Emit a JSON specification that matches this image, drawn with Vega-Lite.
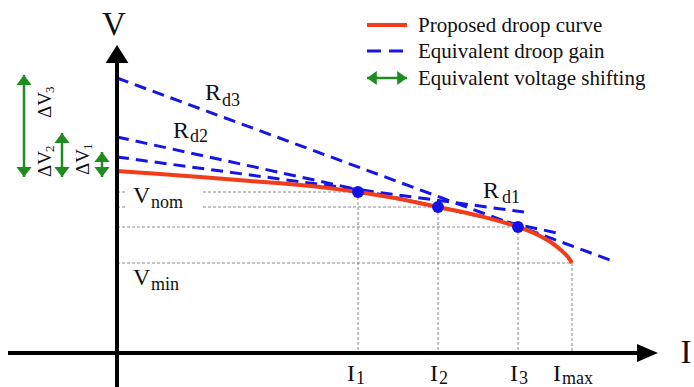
{
  "$schema": "https://vega.github.io/schema/vega-lite/v6.json",
  "width": 694,
  "height": 387,
  "autosize": {"type": "none"},
  "padding": 0,
  "background": "white",
  "config": {"view": {"stroke": null}},
  "datasets": {
    "curve": [
      {"X": 0, "Y": 18.2}, {"X": 4.3, "Y": 17.9}, {"X": 8.3, "Y": 17.6}, {"X": 13.3, "Y": 17.2},
      {"X": 18.3, "Y": 16.8}, {"X": 24.1, "Y": 16.1}, {"X": 28.3, "Y": 15.4}, {"X": 32.1, "Y": 14.6},
      {"X": 36.3, "Y": 13.7}, {"X": 40.1, "Y": 12.6}, {"X": 42.3, "Y": 11.7}, {"X": 43.5, "Y": 11.0},
      {"X": 44.5, "Y": 10.2}, {"X": 45.1, "Y": 9.6}, {"X": 45.5, "Y": 9.0}
    ],
    "dots": [{"X": 24.1, "Y": 16.1}, {"X": 32.1, "Y": 14.6}, {"X": 40.1, "Y": 12.6}],
    "blue": [
      {"line": "Rd1", "X": 0, "Y": 19.6}, {"line": "Rd1", "X": 40.7, "Y": 14.1},
      {"line": "Rd2", "X": 0, "Y": 21.6}, {"line": "Rd2", "X": 44.0, "Y": 12.0},
      {"line": "Rd3", "X": 0, "Y": 27.5}, {"line": "Rd3", "X": 49.3, "Y": 9.3}
    ],
    "grid": [
      {"X": 0, "X2": 1.0, "Y": 16.1, "Y2": 16.1}, {"X": 8.6, "X2": 24.1, "Y": 16.1, "Y2": 16.1},
      {"X": 0, "X2": 1.0, "Y": 14.6, "Y2": 14.6}, {"X": 8.6, "X2": 32.1, "Y": 14.6, "Y2": 14.6},
      {"X": 0, "X2": 40.1, "Y": 12.6, "Y2": 12.6}, {"X": 0, "X2": 45.5, "Y": 9.0, "Y2": 9.0},
      {"X": 24.1, "X2": 24.1, "Y": 16.1, "Y2": 0}, {"X": 32.1, "X2": 32.1, "Y": 14.6, "Y2": 0},
      {"X": 40.1, "X2": 40.1, "Y": 12.6, "Y2": 0}, {"X": 45.5, "X2": 45.5, "Y": 9.0, "Y2": 0}
    ],
    "axes": [
      {"X": 0, "X2": 0, "Y": -3.4, "Y2": 29.2},
      {"X": -10.9, "X2": 52.3, "Y": 0, "Y2": 0}
    ],
    "tipUp": [{"X": 0, "Y": 30.8}],
    "tipRight": [{"X": 54.1, "Y": 0}],
    "shifts": [
      {"X": -9.3, "Y": 27.8, "Y2": 17.6},
      {"X": -5.5, "Y": 22.0, "Y2": 17.6},
      {"X": -1.5, "Y": 20.1, "Y2": 17.6}
    ],
    "legRed": [{"X": 25.0, "Y": 32.8}, {"X": 29.0, "Y": 32.8}],
    "legBlue": [{"X": 25.0, "Y": 30.2}, {"X": 29.0, "Y": 30.2}],
    "legGreen": [{"X": 25.0, "X2": 29.0, "Y": 27.5}],
    "legText": [
      {"t": "Proposed droop curve", "X": 30.1, "Y": 32.1},
      {"t": "Equivalent droop gain", "X": 30.1, "Y": 29.5},
      {"t": "Equivalent voltage shifting", "X": 30.1, "Y": 26.8}
    ],
    "bigLabels": [{"t": "V", "X": -0.3, "Y": 31.8}, {"t": "I", "X": 56.9, "Y": -1.0}],
    "mainLabels": [
      {"t": "V", "X": 1.6, "Y": 15.0}, {"t": "V", "X": 1.6, "Y": 6.8},
      {"t": "R", "X": 8.8, "Y": 25.3}, {"t": "R", "X": 5.6, "Y": 21.5}, {"t": "R", "X": 36.6, "Y": 15.5},
      {"t": "I", "X": 23.0, "Y": -2.8}, {"t": "I", "X": 31.3, "Y": -2.8}, {"t": "I", "X": 39.3, "Y": -2.8}, {"t": "I", "X": 43.6, "Y": -2.8}
    ],
    "subLabels": [
      {"t": "nom", "X": 3.4, "Y": 14.5}, {"t": "min", "X": 3.4, "Y": 6.3},
      {"t": "d3", "X": 10.5, "Y": 24.7}, {"t": "d2", "X": 7.3, "Y": 21.1}, {"t": "d1", "X": 38.5, "Y": 15.0},
      {"t": "1", "X": 23.9, "Y": -3.1}, {"t": "2", "X": 32.2, "Y": -3.1}, {"t": "3", "X": 40.2, "Y": -3.1}, {"t": "max", "X": 44.5, "Y": -3.1}
    ],
    "dvMain": [
      {"t": "ΔV", "X": -6.6, "Y": 23.5}, {"t": "ΔV", "X": -6.6, "Y": 17.6}, {"t": "ΔV", "X": -2.8, "Y": 17.8}
    ],
    "dvSub": [
      {"t": "3", "X": -6.3, "Y": 26.0}, {"t": "2", "X": -6.3, "Y": 20.1}, {"t": "1", "X": -2.5, "Y": 20.3}
    ]
  },
  "encoding": {
    "x": {"field": "X", "type": "quantitative", "scale": {"domain": [-11.7, 57.7], "nice": false, "zero": false}, "axis": null},
    "y": {"field": "Y", "type": "quantitative", "scale": {"domain": [-3.4, 35.3], "nice": false, "zero": false}, "axis": null}
  },
  "layer": [
    {"data": {"name": "grid"}, "mark": {"type": "rule", "color": "#8a8a8a", "strokeWidth": 1, "strokeDash": [3, 2]},
     "encoding": {"x2": {"field": "X2"}, "y2": {"field": "Y2"}}},
    {"data": {"name": "blue"}, "mark": {"type": "line", "color": "#1515e6", "strokeWidth": 3, "strokeDash": [12, 7]},
     "encoding": {"detail": {"field": "line"}}},
    {"data": {"name": "curve"}, "mark": {"type": "line", "color": "#f23c1c", "strokeWidth": 4, "interpolate": "monotone"},
     "encoding": {}},
    {"data": {"name": "dots"}, "mark": {"type": "point", "filled": true, "opacity": 1, "color": "#1010e8", "size": 140},
     "encoding": {}},
    {"data": {"name": "axes"}, "mark": {"type": "rule", "color": "#000000", "strokeWidth": 4},
     "encoding": {"x2": {"field": "X2"}, "y2": {"field": "Y2"}}},
    {"data": {"name": "tipUp"}, "mark": {"type": "point", "filled": true, "opacity": 1, "color": "#000000", "size": 576, "shape": "M0,0L0.95,1.5L-0.95,1.5Z"},
     "encoding": {}},
    {"data": {"name": "tipRight"}, "mark": {"type": "point", "filled": true, "opacity": 1, "color": "#000000", "size": 576, "shape": "M0,0L-1.75,0.75L-1.75,-0.75Z"},
     "encoding": {}},
    {"data": {"name": "shifts"}, "mark": {"type": "rule", "color": "#1e8c1e", "strokeWidth": 2.5},
     "encoding": {"y2": {"field": "Y2"}}},
    {"data": {"name": "shifts"}, "mark": {"type": "point", "filled": true, "opacity": 1, "color": "#1e8c1e", "size": 256, "shape": "M0,0L0.95,1.25L-0.95,1.25Z"},
     "encoding": {}},
    {"data": {"name": "shifts"}, "mark": {"type": "point", "filled": true, "opacity": 1, "color": "#1e8c1e", "size": 256, "shape": "M0,0L0.95,-1.25L-0.95,-1.25Z"},
     "encoding": {"y": {"field": "Y2", "type": "quantitative"}}},
    {"data": {"name": "legRed"}, "mark": {"type": "line", "color": "#f23c1c", "strokeWidth": 4}, "encoding": {}},
    {"data": {"name": "legBlue"}, "mark": {"type": "line", "color": "#1515e6", "strokeWidth": 3, "strokeDash": [14, 8]}, "encoding": {}},
    {"data": {"name": "legGreen"}, "mark": {"type": "rule", "color": "#1e8c1e", "strokeWidth": 2.5},
     "encoding": {"x2": {"field": "X2"}}},
    {"data": {"name": "legGreen"}, "mark": {"type": "point", "filled": true, "opacity": 1, "color": "#1e8c1e", "size": 196, "shape": "M0,0L1.4,1L1.4,-1Z"},
     "encoding": {}},
    {"data": {"name": "legGreen"}, "mark": {"type": "point", "filled": true, "opacity": 1, "color": "#1e8c1e", "size": 196, "shape": "M0,0L-1.4,1L-1.4,-1Z"},
     "encoding": {"x": {"field": "X2", "type": "quantitative"}}},
    {"data": {"name": "legText"}, "mark": {"type": "text", "font": "Liberation Serif", "color": "#111111", "fontSize": 21, "align": "left", "baseline": "alphabetic"},
     "encoding": {"text": {"field": "t"}}},
    {"data": {"name": "bigLabels"}, "mark": {"type": "text", "font": "Liberation Serif", "color": "#111111", "fontSize": 33, "align": "center", "baseline": "alphabetic"},
     "encoding": {"text": {"field": "t"}}},
    {"data": {"name": "mainLabels"}, "mark": {"type": "text", "font": "Liberation Serif", "color": "#111111", "fontSize": 24, "align": "left", "baseline": "alphabetic"},
     "encoding": {"text": {"field": "t"}}},
    {"data": {"name": "subLabels"}, "mark": {"type": "text", "font": "Liberation Serif", "color": "#111111", "fontSize": 18, "align": "left", "baseline": "alphabetic"},
     "encoding": {"text": {"field": "t"}}},
    {"data": {"name": "dvMain"}, "mark": {"type": "text", "font": "Liberation Serif", "color": "#111111", "fontSize": 19, "align": "left", "baseline": "alphabetic", "angle": 270},
     "encoding": {"text": {"field": "t"}}},
    {"data": {"name": "dvSub"}, "mark": {"type": "text", "font": "Liberation Serif", "color": "#111111", "fontSize": 13, "align": "left", "baseline": "alphabetic", "angle": 270},
     "encoding": {"text": {"field": "t"}}}
  ]
}
